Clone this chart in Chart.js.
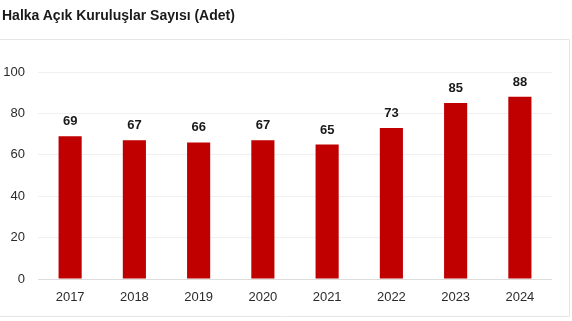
<!DOCTYPE html>
<html>
<head>
<meta charset="utf-8">
<script src="https://cdn.jsdelivr.net/npm/chart.js@4/dist/chart.umd.min.js"></script>
<style>
  html, body { margin: 0; padding: 0; background: #fff; }
  #wrap { position: relative; width: 572px; height: 321px; }
  #title {
    position: absolute; left: 2px; top: 7px;
    font: bold 14px "Liberation Sans", Arial, sans-serif; color: #1a1a1a;
    white-space: nowrap;
  }
  canvas { position: absolute; left: 0; top: 0; }
</style>
</head>
<body>
<div id="wrap">
  <canvas id="chart" width="572" height="321"></canvas>
  <div id="title">Halka Açık Kuruluşlar Sayısı (Adet)</div>
</div>
<script>
// Number of publicly traded companies per year
const years = ['2017', '2018', '2019', '2020', '2021', '2022', '2023', '2024'];
const counts = [69, 67, 66, 67, 65, 73, 85, 88];
const yTicks = [0, 20, 40, 60, 80, 100];

const FONT = '"Liberation Sans", Arial, sans-serif';

// Light frame (top, right, bottom) around the plot panel
const panelFrame = {
  id: 'panelFrame',
  beforeDraw(chart) {
    const c = chart.ctx;
    c.save();
    c.strokeStyle = '#e6e6e6';
    c.lineWidth = 1;
    c.beginPath();
    c.moveTo(0, 39.5);
    c.lineTo(569.5, 39.5);
    c.lineTo(569.5, 316.5);
    c.lineTo(0, 316.5);
    c.stroke();
    c.restore();
  }
};

// Value printed above each bar
const valueLabels = {
  id: 'valueLabels',
  afterDatasetsDraw(chart) {
    const c = chart.ctx;
    const meta = chart.getDatasetMeta(0);
    const data = chart.data.datasets[0].data;
    c.save();
    c.font = 'bold 13px ' + FONT;
    c.fillStyle = '#1a1a1a';
    c.textAlign = 'center';
    c.textBaseline = 'bottom';
    meta.data.forEach((bar, i) => {
      c.fillText(String(data[i]), bar.x, bar.y - 8);
    });
    c.restore();
  }
};

new Chart(document.getElementById('chart'), {
  type: 'bar',
  data: {
    labels: years,
    datasets: [{
      data: counts,
      backgroundColor: '#c00000',
      borderWidth: 0,
      barPercentage: 0.36,
      categoryPercentage: 1.0
    }]
  },
  options: {
    responsive: false,
    animation: false,
    events: [],
    layout: { padding: { left: 0, right: 20, top: 72, bottom: 0 } },
    plugins: {
      legend: { display: false },
      tooltip: { enabled: false }
    },
    scales: {
      x: {
        grid: { display: false, drawTicks: false },
        border: { display: false },
        ticks: { color: '#2b2b2b', font: { family: FONT, size: 13 }, padding: 11 },
        afterFit(scale) { scale.height = 42; }
      },
      y: {
        min: 0,
        max: 100,
        afterBuildTicks(scale) { scale.ticks = yTicks.map(v => ({ value: v })); },
        grid: {
          drawTicks: false,
          color: ctx => ctx.tick && ctx.tick.value === 0 ? '#dcdcdc' : '#f0f0f0',
          lineWidth: 1
        },
        border: { display: false },
        ticks: { color: '#2b2b2b', font: { family: FONT, size: 13 }, padding: 13 },
        afterFit(scale) { scale.width = 38; }
      }
    }
  },
  plugins: [panelFrame, valueLabels]
});
</script>
</body>
</html>
